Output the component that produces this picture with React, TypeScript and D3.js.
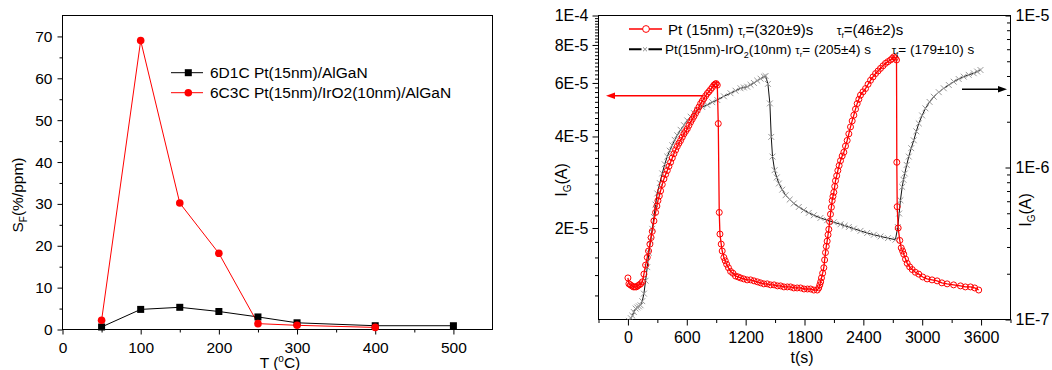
import * as d3 from 'd3';
import React, { useEffect, useRef } from 'react';

const FONT = '"Liberation Sans", Arial, sans-serif';

// left panel: sensitivity vs temperature
const tempC = [50, 100, 150, 200, 250, 300, 400, 500];
const sf6D1C = [0.6, 4.8, 5.3, 4.3, 3.0, 1.6, 0.9, 0.9];
const tempC6C3C = [50, 100, 150, 200, 250, 300, 400];
const sf6C3C = [2.2, 69.0, 30.2, 18.2, 1.4, 1.0, 0.5];
const tempTicks = [0, 100, 200, 300, 400, 500];
const tempMinor = [50, 150, 250, 350, 450];
const sfTicks = [0, 10, 20, 30, 40, 50, 60, 70];
const sfMinor = [5, 15, 25, 35, 45, 55, 65];

// right panel: gate current transients
// Pt (15nm), current in units of 1E-5 A
const ptTime = [0, 10, 25, 40, 55, 70, 85, 100, 115, 130, 147, 163, 180, 197, 210, 224, 236, 248, 265, 282, 295, 306, 320, 333, 350, 367, 384, 401, 418, 435, 452, 469, 486, 503, 520, 537, 554, 571, 588, 605, 622, 639, 656, 673, 690, 707, 724, 741, 758, 774, 792, 809, 826, 843, 860, 876, 890, 900, 911, 921, 931, 938, 951, 961, 978, 992, 1006, 1025, 1046, 1070, 1097, 1125, 1148, 1180, 1215, 1250, 1285, 1320, 1352, 1385, 1420, 1454, 1490, 1525, 1556, 1590, 1625, 1658, 1690, 1725, 1760, 1795, 1830, 1862, 1895, 1930, 1945, 1956, 1965, 1973, 1985, 1997, 2005, 2014, 2022, 2031, 2040, 2048, 2056, 2065, 2074, 2082, 2090, 2099, 2108, 2116, 2128, 2140, 2153, 2167, 2184, 2201, 2218, 2235, 2252, 2269, 2286, 2303, 2320, 2337, 2354, 2371, 2396, 2422, 2448, 2473, 2498, 2524, 2550, 2575, 2600, 2626, 2651, 2677, 2695, 2710, 2725, 2738, 2741, 2745, 2755, 2771, 2786, 2800, 2812, 2830, 2847, 2872, 2898, 2930, 2965, 3005, 3050, 3100, 3152, 3200, 3254, 3320, 3390, 3440, 3492, 3535, 3576];
const ptCurrent = [1.37, 1.31, 1.30, 1.29, 1.28, 1.28, 1.28, 1.29, 1.30, 1.31, 1.33, 1.41, 1.51, 1.60, 1.68, 1.77, 1.86, 1.95, 2.11, 2.25, 2.36, 2.46, 2.55, 2.65, 2.78, 2.90, 3.00, 3.09, 3.19, 3.29, 3.40, 3.51, 3.61, 3.71, 3.80, 3.88, 3.98, 4.08, 4.16, 4.24, 4.35, 4.46, 4.56, 4.66, 4.77, 4.88, 5.00, 5.13, 5.23, 5.33, 5.44, 5.54, 5.62, 5.71, 5.80, 5.90, 5.95, 5.97, 5.90, 4.41, 2.25, 1.91, 1.77, 1.68, 1.60, 1.56, 1.52, 1.48, 1.44, 1.42, 1.39, 1.38, 1.37, 1.36, 1.35, 1.35, 1.34, 1.33, 1.32, 1.31, 1.31, 1.30, 1.30, 1.29, 1.29, 1.28, 1.28, 1.28, 1.27, 1.27, 1.27, 1.26, 1.26, 1.26, 1.25, 1.25, 1.27, 1.30, 1.33, 1.37, 1.42, 1.48, 1.57, 1.66, 1.74, 1.81, 1.90, 1.98, 2.10, 2.22, 2.34, 2.46, 2.54, 2.62, 2.74, 2.86, 2.97, 3.09, 3.21, 3.33, 3.45, 3.55, 3.72, 3.88, 4.08, 4.30, 4.50, 4.70, 4.92, 5.13, 5.30, 5.47, 5.61, 5.75, 5.94, 6.12, 6.28, 6.44, 6.57, 6.70, 6.83, 6.96, 7.05, 7.14, 7.22, 7.31, 7.25, 7.14, 3.29, 2.35, 2.00, 1.82, 1.72, 1.68, 1.64, 1.58, 1.53, 1.49, 1.46, 1.43, 1.41, 1.38, 1.36, 1.35, 1.34, 1.32, 1.31, 1.30, 1.29, 1.28, 1.28, 1.27, 1.25];

// Pt(15nm)-IrO2(10nm), current in units of 1E-7 A
const iroTime = [10, 30, 45, 60, 78, 95, 112, 129, 146, 163, 180, 197, 214, 231, 248, 265, 282, 299, 325, 350, 375, 401, 426, 452, 477, 503, 537, 571, 605, 639, 673, 707, 758, 809, 860, 911, 978, 1046, 1097, 1148, 1182, 1216, 1250, 1284, 1318, 1352, 1386, 1403, 1427, 1447, 1461, 1474, 1495, 1517, 1539, 1573, 1607, 1649, 1691, 1742, 1793, 1844, 1895, 1963, 2031, 2099, 2167, 2210, 2252, 2303, 2371, 2439, 2507, 2575, 2651, 2727, 2751, 2765, 2778, 2796, 2809, 2822, 2842, 2863, 2888, 2914, 2940, 2965, 2999, 3033, 3075, 3118, 3169, 3220, 3271, 3321, 3372, 3423, 3474, 3525, 3560, 3594];
const iroCurrent = [0.98, 1.02, 1.06, 1.12, 1.18, 1.20, 1.22, 1.24, 1.32, 1.48, 1.80, 2.21, 2.75, 3.32, 3.95, 4.73, 5.70, 6.75, 7.90, 9.14, 10.5, 11.8, 12.9, 14.0, 15.2, 16.3, 17.7, 19.0, 20.4, 21.6, 22.8, 23.9, 25.0, 25.8, 26.9, 27.8, 29.4, 30.8, 32.0, 33.2, 33.6, 34.0, 35.0, 36.0, 37.3, 38.4, 39.6, 40.0, 35.5, 26.4, 15.9, 11.8, 9.6, 8.6, 7.85, 7.15, 6.57, 6.15, 5.80, 5.50, 5.24, 5.03, 4.85, 4.66, 4.50, 4.36, 4.23, 4.14, 4.06, 3.96, 3.83, 3.71, 3.61, 3.52, 3.43, 3.35, 4.06, 4.98, 6.09, 7.45, 8.3, 9.13, 10.4, 11.8, 13.4, 15.1, 17.3, 19.5, 22.0, 24.5, 27.0, 29.2, 31.3, 33.2, 34.9, 36.7, 38.2, 39.6, 40.7, 41.7, 42.8, 43.8];

const timeTicks = [0, 600, 1200, 1800, 2400, 3000, 3600];
const timeMinor = [-300, 300, 900, 1500, 2100, 2700, 3300, 3900];
const leftLogTicks = [2e-5, 4e-5, 6e-5, 8e-5, 1e-4];
const leftLogLabels = ['2E-5', '4E-5', '6E-5', '8E-5', '1E-4'];
const rightLogTicks = [1e-7, 1e-6, 1e-5];
const rightLogLabels = ['1E-7', '1E-6', '1E-5'];

function styleAxis(g: any, size: number) {
    g.select('.domain').remove();
    g.attr('font-family', FONT).attr('font-size', size);
    g.selectAll('text').attr('fill', '#000');
    g.selectAll('line').attr('stroke', '#000');
}

function drawLeft(root: any) {
    const x = d3.scaleLinear().domain([0, 550]).range([62.5, 492.5]);
    const y = d3.scaleLinear().domain([0, 75]).range([329.5, 15.5]);

    root.append('g').attr('transform', 'translate(0,329.5)')
        .call(d3.axisBottom(x).tickValues(tempTicks).tickSize(5).tickPadding(7).tickFormat(d3.format('d')) as any)
        .call((g: any) => styleAxis(g, 15.5));
    root.append('g').attr('transform', 'translate(0,329.5)')
        .call(d3.axisBottom(x).tickValues(tempMinor).tickSize(3).tickFormat(() => '') as any)
        .call((g: any) => styleAxis(g, 15.5));
    root.append('g').attr('transform', 'translate(62.5,0)')
        .call(d3.axisLeft(y).tickValues(sfTicks).tickSize(5).tickPadding(5) as any)
        .call((g: any) => styleAxis(g, 15.5));
    root.append('g').attr('transform', 'translate(62.5,0)')
        .call(d3.axisLeft(y).tickValues(sfMinor).tickSize(3).tickFormat(() => '') as any)
        .call((g: any) => styleAxis(g, 15.5));

    root.append('rect')
        .attr('x', 62.5).attr('y', 15.5).attr('width', 430).attr('height', 314)
        .attr('fill', 'none').attr('stroke', '#000');

    const line = d3.line<[number, number]>().x(d => x(d[0])).y(d => y(d[1]));
    const black: [number, number][] = tempC.map((t, i) => [t, sf6D1C[i]]);
    const red: [number, number][] = tempC6C3C.map((t, i) => [t, sf6C3C[i]]);

    root.append('path').attr('d', line(black)).attr('fill', 'none').attr('stroke', '#000').attr('stroke-width', 1);
    root.append('path').attr('d', line(red)).attr('fill', 'none').attr('stroke', '#f00').attr('stroke-width', 1);

    root.selectAll('.sq').data(black).join('rect')
        .attr('x', (d: any) => x(d[0]) - 3.5).attr('y', (d: any) => y(d[1]) - 3.5)
        .attr('width', 7).attr('height', 7).attr('fill', '#000');
    root.selectAll('.dot').data(red).join('circle')
        .attr('cx', (d: any) => x(d[0])).attr('cy', (d: any) => y(d[1]))
        .attr('r', 3.8).attr('fill', '#f00');

    // legend
    const lg = root.append('g').attr('font-family', FONT).attr('font-size', 15.5);
    lg.append('line').attr('x1', 171).attr('x2', 203).attr('y1', 72.7).attr('y2', 72.7).attr('stroke', '#000');
    lg.append('rect').attr('x', 184.8).attr('y', 69.2).attr('width', 7).attr('height', 7).attr('fill', '#000');
    lg.append('text').attr('x', 210).attr('y', 78.3).text('6D1C Pt(15nm)/AlGaN');
    lg.append('line').attr('x1', 171).attr('x2', 203).attr('y1', 92.7).attr('y2', 92.7).attr('stroke', '#f00');
    lg.append('circle').attr('cx', 188.3).attr('cy', 92.7).attr('r', 3.8).attr('fill', '#f00');
    lg.append('text').attr('x', 210).attr('y', 98.3).text('6C3C Pt(15nm)/IrO2(10nm)/AlGaN');

    // axis titles (the original is clipped by the bottom edge)
    const xt = root.append('text').attr('font-family', FONT).attr('font-size', 15.5)
        .attr('x', 280).attr('y', 367.5).attr('text-anchor', 'middle');
    xt.append('tspan').text('T (');
    xt.append('tspan').attr('font-size', 10).attr('dy', -6).text('o');
    xt.append('tspan').attr('dy', 6).text('C)');

    const yt = root.append('text').attr('font-family', FONT).attr('font-size', 15.5)
        .attr('transform', 'translate(23,195) rotate(-90)').attr('text-anchor', 'middle');
    yt.append('tspan').text('S');
    yt.append('tspan').attr('font-size', 10).attr('dy', 4).text('F');
    yt.append('tspan').attr('dy', -4).text('(%/ppm)');
}

function drawRight(root: any) {
    const x = d3.scaleLinear().domain([-300, 3900]).range([598.5, 1010.5]);
    const yL = d3.scaleLog().domain([1e-5, 1e-4]).range([319.5, 15.5]);
    const yR = d3.scaleLog().domain([1e-7, 1e-5]).range([319.5, 15.5]);

    const leftMinor = d3.range(1, 50).map(i => 1e-5 + i * 2e-6).filter(v => v < 1e-4 && !leftLogTicks.some(t => Math.abs(t - v) < 1e-9));
    const rightMinor: number[] = [];
    [1e-7, 1e-6].forEach(dec => [2, 3, 4, 5, 6, 7, 8, 9].forEach(m => rightMinor.push(dec * m)));

    root.append('g').attr('transform', 'translate(0,319.5)')
        .call(d3.axisBottom(x).tickValues(timeTicks).tickSize(6).tickPadding(6).tickFormat(d3.format('d')) as any)
        .call((g: any) => styleAxis(g, 16));
    root.append('g').attr('transform', 'translate(0,319.5)')
        .call(d3.axisBottom(x).tickValues(timeMinor).tickSize(3.5).tickFormat(() => '') as any)
        .call((g: any) => styleAxis(g, 16));
    root.append('g').attr('transform', 'translate(598.5,0)')
        .call(d3.axisLeft(yL).tickValues(leftLogTicks).tickSize(6).tickPadding(4)
            .tickFormat((d: any, i: number) => leftLogLabels[i]) as any)
        .call((g: any) => styleAxis(g, 16));
    root.append('g').attr('transform', 'translate(598.5,0)')
        .call(d3.axisLeft(yL).tickValues(leftMinor).tickSize(3.5).tickFormat(() => '') as any)
        .call((g: any) => styleAxis(g, 16));
    root.append('g').attr('transform', 'translate(1010.5,0)')
        .call(d3.axisRight(yR).tickValues(rightLogTicks).tickSize(-5).tickPadding(5)
            .tickFormat((d: any, i: number) => rightLogLabels[i]) as any)
        .call((g: any) => styleAxis(g, 16));
    root.append('g').attr('transform', 'translate(1010.5,0)')
        .call(d3.axisRight(yR).tickValues(rightMinor).tickSize(-3.5).tickFormat(() => '') as any)
        .call((g: any) => styleAxis(g, 16));

    root.append('rect')
        .attr('x', 598.5).attr('y', 15.5).attr('width', 412).attr('height', 304)
        .attr('fill', 'none').attr('stroke', '#000');

    const clip = root.append('clipPath').attr('id', 'rclip');
    clip.append('rect').attr('x', 598.5).attr('y', 15.5).attr('width', 412).attr('height', 304);
    const plot = root.append('g').attr('clip-path', 'url(#rclip)');

    // IrO2 series (right axis)
    const iro: [number, number][] = iroTime.map((t, i) => [t, iroCurrent[i] * 1e-7]);
    const lineR = d3.line<[number, number]>().x(d => x(d[0])).y(d => yR(d[1]));
    plot.append('path').attr('d', lineR(iro)).attr('fill', 'none').attr('stroke', '#111').attr('stroke-width', 1);
    const cross = d3.symbol().type(d3.symbolX).size(24);
    plot.selectAll('.x').data(iro).join('path')
        .attr('d', cross as any)
        .attr('transform', (d: any) => `translate(${x(d[0])},${yR(d[1])})`)
        .attr('fill', 'none').attr('stroke', '#999').attr('stroke-width', 1);

    // Pt series (left axis)
    const pt: [number, number][] = ptTime.map((t, i) => [t, ptCurrent[i] * 1e-5]);
    const lineL = d3.line<[number, number]>().x(d => x(d[0])).y(d => yL(d[1]));
    plot.append('path').attr('d', lineL(pt)).attr('fill', 'none').attr('stroke', '#f00').attr('stroke-width', 1.3);
    plot.selectAll('.o').data(pt).join('circle')
        .attr('cx', (d: any) => x(d[0])).attr('cy', (d: any) => yL(d[1]))
        .attr('r', 3).attr('fill', 'none').attr('stroke', '#f00').attr('stroke-width', 1);

    // arrows
    root.append('line').attr('x1', 703).attr('x2', 612).attr('y1', 95.7).attr('y2', 95.7).attr('stroke', '#f00').attr('stroke-width', 1.5);
    root.append('path').attr('d', 'M606,95.7 L615,92.5 L615,98.9 Z').attr('fill', '#f00');
    root.append('line').attr('x1', 962).attr('x2', 1000).attr('y1', 89.3).attr('y2', 89.3).attr('stroke', '#000').attr('stroke-width', 1.5);
    root.append('path').attr('d', 'M1007,89.3 L998,86.1 L998,92.5 Z').attr('fill', '#000');

    // legend
    const lg = root.append('g').attr('font-family', FONT);
    lg.append('line').attr('x1', 629).attr('x2', 662).attr('y1', 29).attr('y2', 29).attr('stroke', '#f00').attr('stroke-width', 1.5);
    lg.append('circle').attr('cx', 646).attr('cy', 29).attr('r', 3.4).attr('fill', '#fff').attr('stroke', '#f00');
    const t1 = lg.append('text').attr('x', 668).attr('y', 34.5).attr('font-size', 15);
    t1.append('tspan').text('Pt (15nm) ');
    t1.append('tspan').attr('font-size', 12).text('τ');
    t1.append('tspan').attr('font-size', 8).attr('dy', 3).text('r');
    t1.append('tspan').attr('dy', -3).text('=(320±9)s');
    const t2 = lg.append('text').attr('x', 836.7).attr('y', 34.5).attr('font-size', 15);
    t2.append('tspan').attr('font-size', 12).text('τ');
    t2.append('tspan').attr('font-size', 8).attr('dy', 3).text('f');
    t2.append('tspan').attr('dy', -3).text('=(46±2)s');

    lg.append('line').attr('x1', 629).attr('x2', 662).attr('y1', 49.3).attr('y2', 49.3).attr('stroke', '#000').attr('stroke-width', 2);
    lg.append('rect').attr('x', 641.5).attr('y', 46).attr('width', 7).attr('height', 7).attr('fill', '#fff');
    lg.append('path').attr('d', d3.symbol().type(d3.symbolX).size(12) as any).attr('transform', 'translate(645,49.3)').attr('fill', 'none').attr('stroke', '#8a8a8a');
    const t3 = lg.append('text').attr('x', 665).attr('y', 54.3).attr('font-size', 13.5);
    t3.append('tspan').text('Pt(15nm)-IrO');
    t3.append('tspan').attr('font-size', 9).attr('dy', 4).text('2');
    t3.append('tspan').attr('dy', -4).text('(10nm) ');
    t3.append('tspan').attr('font-size', 11).text('τ');
    t3.append('tspan').attr('font-size', 8).attr('dy', 3).text('r');
    t3.append('tspan').attr('dy', -3).text('= (205±4) s');
    const t4 = lg.append('text').attr('x', 891.7).attr('y', 54.3).attr('font-size', 13.5);
    t4.append('tspan').attr('font-size', 11).text('τ');
    t4.append('tspan').attr('font-size', 8).attr('dy', 3).text('f');
    t4.append('tspan').attr('dy', -3).text('= (179±10) s');

    // axis titles
    root.append('text').attr('font-family', FONT).attr('font-size', 16)
        .attr('x', 802).attr('y', 363).attr('text-anchor', 'middle').text('t(s)');

    const yl = root.append('text').attr('font-family', FONT).attr('font-size', 16)
        .attr('transform', 'translate(567,180) rotate(-90)').attr('text-anchor', 'middle');
    yl.append('tspan').text('I');
    yl.append('tspan').attr('font-size', 10).attr('dy', 4).text('G');
    yl.append('tspan').attr('dy', -4).text('(A)');

    const yr = root.append('text').attr('font-family', FONT).attr('font-size', 16)
        .attr('transform', 'translate(1031,210) rotate(-90)').attr('text-anchor', 'middle');
    yr.append('tspan').text('I');
    yr.append('tspan').attr('font-size', 10).attr('dy', 4).text('G');
    yr.append('tspan').attr('dy', -4).text('(A)');
}

export default () => {
    const ref = useRef<any>();

    useEffect(() => {
        const svg = d3.select<any, any>(ref.current);
        svg.selectAll('*').remove();
        drawLeft(svg.append('g'));
        drawRight(svg.append('g'));
    }, []);

    return (
        <svg ref={ref} width={1052} height={370}
            style={{ position: 'absolute', left: 0, top: 0, background: '#fff' }}></svg>
    );
};
